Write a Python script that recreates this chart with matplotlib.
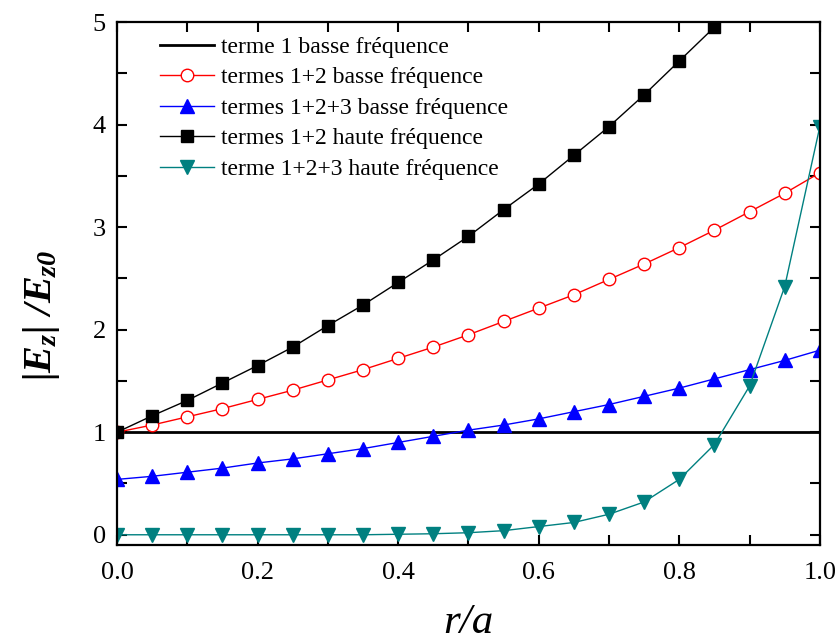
import matplotlib.pyplot as plt
from matplotlib.ticker import MultipleLocator

plt.rcParams["font.family"] = ["Liberation Serif", "DejaVu Serif"]
plt.rcParams["mathtext.fontset"] = "custom"
plt.rcParams["mathtext.rm"] = "Liberation Serif:bold:italic"
plt.rcParams["mathtext.it"] = "Liberation Serif:bold:italic"
plt.rcParams["mathtext.bf"] = "Liberation Serif:bold:italic"

# r/a sampling
r = [0.0, 0.05, 0.1, 0.15, 0.2, 0.25, 0.3, 0.35, 0.4, 0.45, 0.5,
     0.55, 0.6, 0.65, 0.7, 0.75, 0.8, 0.85, 0.9, 0.95, 1.0]

# terme 1 basse fréquence
low_1 = [1.0] * len(r)
# termes 1+2 basse fréquence
low_12 = [1.0, 1.07, 1.15, 1.23, 1.32, 1.41, 1.51, 1.61, 1.72, 1.83, 1.95,
          2.08, 2.21, 2.34, 2.49, 2.64, 2.80, 2.97, 3.15, 3.33, 3.53]
# termes 1+2+3 basse fréquence
low_123 = [0.54, 0.57, 0.61, 0.65, 0.70, 0.74, 0.79, 0.84, 0.90, 0.96, 1.02,
           1.07, 1.13, 1.20, 1.27, 1.35, 1.43, 1.52, 1.61, 1.70, 1.80]
# termes 1+2 haute fréquence (stops at 0.85)
r_high12 = r[:18]
high_12 = [1.0, 1.16, 1.31, 1.48, 1.65, 1.83, 2.04, 2.24, 2.46, 2.68, 2.91,
           3.17, 3.42, 3.70, 3.98, 4.29, 4.62, 4.95]
# terme 1+2+3 haute fréquence
high_123 = [0.0, 0.0, 0.0, 0.0, 0.0, 0.0, 0.0, 0.0, 0.005, 0.01, 0.02,
            0.04, 0.08, 0.12, 0.20, 0.32, 0.54, 0.88, 1.45, 2.42, 3.98]

fig = plt.figure(figsize=(8.4, 6.4), dpi=100)
ax = fig.add_axes([0.1393, 0.1484, 0.8367, 0.8172])

ax.plot(r, low_1, color="black", lw=2, label="terme 1 basse fréquence")
ax.plot(r, low_12, color="red", lw=1, marker="o", ms=9, mfc="white",
        mec="red", label="termes 1+2 basse fréquence")
ax.plot(r, low_123, color="blue", lw=1, marker="^", ms=10,
        label="termes 1+2+3 basse fréquence")
ax.plot(r_high12, high_12, color="black", lw=1, marker="s", ms=8,
        label="termes 1+2 haute fréquence")
ax.plot(r, high_123, color="#008080", lw=1, marker="v", ms=10,
        label="terme 1+2+3 haute fréquence")

ax.set_xlim(0, 1)
ax.set_ylim(-0.1, 5)
ax.xaxis.set_major_locator(MultipleLocator(0.2))
ax.xaxis.set_minor_locator(MultipleLocator(0.1))
ax.yaxis.set_major_locator(MultipleLocator(1))
ax.yaxis.set_minor_locator(MultipleLocator(0.5))
ax.xaxis.set_major_formatter(lambda v, p: f"{v:.1f}")
ax.tick_params(which="both", direction="in", top=True, right=True,
               width=1.5, labelsize=19)
ax.tick_params(which="both", length=7)
ax.tick_params(axis="x", pad=12)
ax.tick_params(axis="y", pad=8)
for s in ax.spines.values():
    s.set_linewidth(1.6)

ax.set_xlabel("r/a", fontsize=31, style="italic", labelpad=14)
ax.set_ylabel(r"$|E_z|\ /E_{z0}$", fontsize=29)
ax.yaxis.set_label_coords(-0.078, 0.44)

ax.legend(loc="upper left", bbox_to_anchor=(0.044, 0.995), frameon=False,
          fontsize=17, handlelength=2.3, handletextpad=0.3,
          labelspacing=0.38, borderaxespad=0.1)

fig.savefig("out.png", dpi=100)
